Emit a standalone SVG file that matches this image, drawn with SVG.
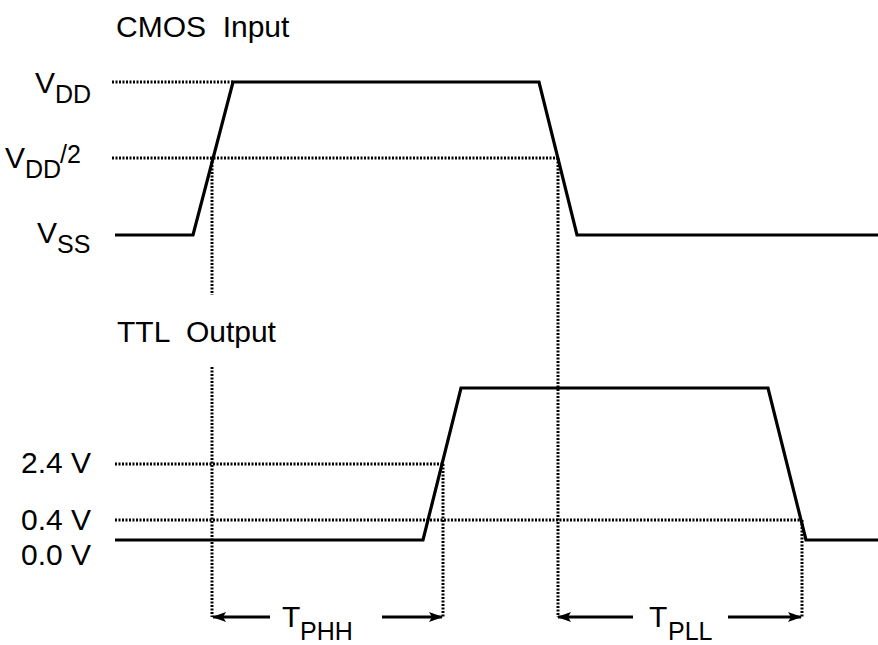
<svg xmlns="http://www.w3.org/2000/svg" width="878" height="645" viewBox="0 0 878 645">
<defs>
<style>
.wave{fill:none;stroke:#000;stroke-width:3.2;stroke-linejoin:miter}
.dot{fill:none;stroke:#000;stroke-width:3;stroke-dasharray:2 1.5}
.arr{fill:none;stroke:#000;stroke-width:3}
.t{font-family:"Liberation Sans",Arial,sans-serif;font-size:30px;fill:#000}
.s{font-family:"Liberation Sans",Arial,sans-serif;font-size:25px;fill:#000}
</style>
<marker id="ah" viewBox="0 0 14 10" refX="13" refY="5" markerWidth="14" markerHeight="10" markerUnits="userSpaceOnUse" orient="auto">
<path d="M0,0 L14,5 L0,10 L3,5 Z" fill="#000"/>
</marker>
</defs>
<rect width="878" height="645" fill="#fff"/>
<g id="labels">
<text class="t" x="116" y="37" xml:space="preserve">CMOS  Input</text>
<text class="t" x="117" y="342" xml:space="preserve">TTL  Output</text>
<text class="t" x="35" y="93">V</text><text class="s" x="55" y="103">DD</text>
<text class="t" x="5" y="168">V</text><text class="s" x="25" y="178">DD</text><text class="s" x="60" y="163">/2</text>
<text class="t" x="37" y="243">V</text><text class="s" x="57" y="253">SS</text>
<text class="t" x="21" y="473">2.4 V</text>
<text class="t" x="21" y="530">0.4 V</text>
<text class="t" x="21" y="565">0.0 V</text>
<text class="t" x="282" y="627">T</text><text class="s" x="300" y="640">PHH</text>
<text class="t" x="649" y="627">T</text><text class="s" x="668" y="640">PLL</text>
</g>
<g id="guides">
<path class="dot" d="M112,82 H233"/>
<path class="dot" d="M112,158 H558"/>
<path class="dot" d="M212,158 V295"/>
<path class="dot" d="M558,158 V617"/>
<path class="dot" d="M212,367 V617"/>
<path class="dot" d="M115,464 H443"/>
<path class="dot" d="M115,520 H802"/>
<path class="dot" d="M443,464 V617"/>
<path class="dot" d="M802,520 V617"/>
</g>
<g id="cmos-input">
<path class="wave" d="M115,235 L193,235 L233,82 L539,82 L577,235 L878,235"/>
</g>
<g id="ttl-output">
<path class="wave" d="M115,540 L423,540 L461,388 L768,388 L806,540 L878,540"/>
</g>
<g id="connectors">
<path class="arr" d="M270,617 H213" marker-end="url(#ah)"/>
<path class="arr" d="M382,617 H442" marker-end="url(#ah)"/>
<path class="arr" d="M633,617 H558" marker-end="url(#ah)"/>
<path class="arr" d="M728,617 H801" marker-end="url(#ah)"/>
</g>
</svg>
